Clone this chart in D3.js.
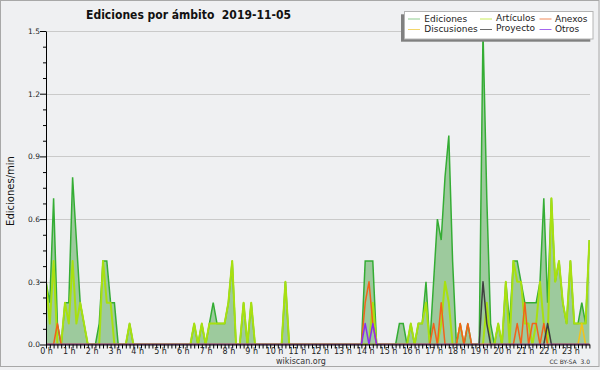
<!DOCTYPE html>
<html>
<head>
<meta charset="utf-8">
<script src="https://cdn.jsdelivr.net/npm/d3@7"></script>
<style>
  body { margin: 0; background: #eff0f2; }
  text { font-family: "DejaVu Sans", sans-serif; }
</style>
</head>
<body>
<svg id="chart" width="600" height="370"></svg>
<script>
// edits per minute, one value per 10-minute slot (6 per hour, 0 h .. 23 h 50)
var ediciones = [
  0.3, 0.2, 0.7, 0.1, 0, 0.2,
  0.2, 0.8, 0.5, 0.2, 0.1, 0,
  0, 0, 0.1, 0.4, 0.4, 0.2,
  0.2, 0, 0, 0, 0.1, 0,
  0, 0, 0, 0, 0, 0,
  0, 0, 0, 0, 0, 0,
  0, 0, 0, 0.1, 0, 0.1,
  0, 0.1, 0.2, 0.1, 0.1, 0.1,
  0.2, 0.4, 0, 0, 0.2, 0,
  0.2, 0, 0, 0, 0, 0,
  0, 0, 0, 0.3, 0, 0,
  0, 0, 0, 0, 0, 0,
  0, 0, 0, 0, 0, 0,
  0, 0, 0, 0, 0, 0,
  0.4, 0.4, 0.4, 0, 0, 0,
  0, 0, 0, 0.1, 0.1, 0,
  0.1, 0, 0.1, 0.1, 0.3, 0,
  0.3, 0.6, 0.5, 0.8, 1.0, 0.4,
  0, 0.1, 0, 0.1, 0, 0,
  0, 1.5, 0.7, 0.1, 0, 0.1,
  0, 0.3, 0.1, 0.4, 0.4, 0.3,
  0.2, 0.2, 0.2, 0.2, 0.3, 0.7,
  0.2, 0.7, 0.3, 0.4, 0.2, 0.1,
  0.4, 0.1, 0.1, 0.2, 0.1, 0.5
];
var articulos = [
  0.3, 0.1, 0.4, 0, 0, 0.2,
  0.1, 0.4, 0.1, 0.2, 0.1, 0,
  0, 0, 0, 0.4, 0.2, 0.2,
  0, 0, 0, 0, 0.1, 0,
  0, 0, 0, 0, 0, 0,
  0, 0, 0, 0, 0, 0,
  0, 0, 0, 0.1, 0, 0.1,
  0, 0.1, 0.1, 0.1, 0.1, 0.1,
  0.2, 0.4, 0, 0, 0.2, 0,
  0.2, 0, 0, 0, 0, 0,
  0, 0, 0, 0.3, 0, 0,
  0, 0, 0, 0, 0, 0,
  0, 0, 0, 0, 0, 0,
  0, 0, 0, 0, 0, 0,
  0, 0, 0.2, 0, 0, 0,
  0, 0, 0, 0, 0, 0,
  0.1, 0, 0.1, 0.1, 0.2, 0,
  0, 0, 0.1, 0.3, 0.2, 0,
  0, 0, 0, 0, 0, 0,
  0, 0, 0.2, 0, 0, 0.1,
  0, 0.3, 0, 0.4, 0.3, 0.3,
  0.1, 0.1, 0, 0.1, 0.3, 0.1,
  0, 0.7, 0.3, 0.4, 0.2, 0.1,
  0.4, 0.1, 0.1, 0.1, 0.1, 0.5
];
var anexos = [
  0, 0, 0, 0.1, 0, 0,  0, 0, 0, 0, 0, 0,  0, 0, 0, 0, 0, 0,  0, 0, 0, 0, 0, 0,
  0, 0, 0, 0, 0, 0,  0, 0, 0, 0, 0, 0,  0, 0, 0, 0, 0, 0,  0, 0, 0, 0, 0, 0,
  0, 0, 0, 0, 0, 0,  0, 0, 0, 0, 0, 0,  0, 0, 0, 0, 0, 0,  0, 0, 0, 0, 0, 0,
  0, 0, 0, 0, 0, 0,  0, 0, 0, 0, 0, 0,  0.2, 0.3, 0.1, 0, 0, 0,  0, 0, 0, 0, 0, 0,
  0, 0, 0, 0, 0, 0,  0.1, 0, 0.2, 0, 0, 0,  0, 0.1, 0, 0.1, 0, 0,  0, 0, 0, 0, 0, 0,
  0, 0, 0, 0, 0.1, 0,  0.2, 0, 0.1, 0.1, 0, 0.1,  0, 0, 0, 0, 0, 0,  0, 0, 0, 0, 0, 0
];
var discusiones = [
  0, 0, 0, 0, 0, 0,  0, 0, 0, 0, 0, 0,  0, 0, 0, 0, 0, 0,  0, 0, 0, 0, 0, 0,
  0, 0, 0, 0, 0, 0,  0, 0, 0, 0, 0, 0,  0, 0, 0, 0, 0, 0,  0, 0, 0, 0, 0, 0,
  0, 0, 0, 0, 0, 0,  0, 0, 0, 0, 0, 0,  0, 0, 0, 0, 0, 0,  0, 0, 0, 0, 0, 0,
  0, 0, 0, 0, 0, 0,  0, 0, 0, 0, 0, 0,  0, 0, 0, 0, 0, 0,  0, 0, 0, 0, 0, 0,
  0, 0, 0, 0, 0, 0,  0, 0, 0, 0, 0, 0,  0, 0.1, 0, 0, 0, 0,  0, 0, 0, 0, 0, 0,
  0, 0, 0, 0, 0, 0,  0, 0, 0, 0, 0, 0,  0, 0, 0, 0, 0, 0,  0, 0, 0, 0.1, 0, 0
];
var proyecto = [
  0, 0, 0, 0, 0, 0,  0, 0, 0, 0, 0, 0,  0, 0, 0, 0, 0, 0,  0, 0, 0, 0, 0, 0,
  0, 0, 0, 0, 0, 0,  0, 0, 0, 0, 0, 0,  0, 0, 0, 0, 0, 0,  0, 0, 0, 0, 0, 0,
  0, 0, 0, 0, 0, 0,  0, 0, 0, 0, 0, 0,  0, 0, 0, 0, 0, 0,  0, 0, 0, 0, 0, 0,
  0, 0, 0, 0, 0, 0,  0, 0, 0, 0, 0, 0,  0, 0, 0, 0, 0, 0,  0, 0, 0, 0, 0, 0,
  0, 0, 0, 0, 0, 0,  0, 0, 0, 0, 0, 0,  0, 0, 0, 0, 0, 0,  0, 0.3, 0.1, 0, 0, 0,
  0, 0, 0, 0, 0, 0,  0, 0, 0, 0, 0, 0,  0.1, 0, 0, 0, 0, 0,  0, 0, 0, 0, 0, 0
];
var otros = [
  0, 0, 0, 0, 0, 0,  0, 0, 0, 0, 0, 0,  0, 0, 0, 0, 0, 0,  0, 0, 0, 0, 0, 0,
  0, 0, 0, 0, 0, 0,  0, 0, 0, 0, 0, 0,  0, 0, 0, 0, 0, 0,  0, 0, 0, 0, 0, 0,
  0, 0, 0, 0, 0, 0,  0, 0, 0, 0, 0, 0,  0, 0, 0, 0, 0, 0,  0, 0, 0, 0, 0, 0,
  0, 0, 0, 0, 0, 0,  0, 0, 0, 0, 0, 0,  0.1, 0, 0.1, 0, 0, 0,  0, 0, 0, 0, 0, 0,
  0, 0, 0, 0, 0, 0,  0, 0, 0, 0, 0, 0,  0, 0, 0, 0, 0, 0,  0, 0, 0, 0, 0, 0,
  0, 0, 0, 0, 0, 0,  0, 0, 0, 0, 0, 0,  0, 0, 0, 0, 0, 0,  0, 0, 0, 0, 0, 0
];

var hourLabels = d3.range(24).map(function (h) { return h + " h"; });
var legendNames = ["Ediciones", "Discusiones", "Artículos", "Proyecto", "Anexos", "Otros"];
var legendColors = ["#8fcc8f", "#f3d66a", "#c8ec5a", "#6a6a6a", "#f08a5a", "#a466ee"];

var svg = d3.select("#chart"),
  margin = { top: 31, left: 46 },
  width = 544,
  height = 313.5;

svg.append("rect")
  .attr("x", 0.5).attr("y", 0.5)
  .attr("width", 598.5).attr("height", 366)
  .attr("fill", "#eff0f2")
  .attr("stroke", "#a8a8a8");

var x = d3.scaleLinear().domain([0, 143]).range([0, 543.4]),
  y = d3.scaleLinear().domain([0, 1.5]).range([height, 0]);

var g = svg.append("g")
  .attr("transform", "translate(" + margin.left + "," + margin.top + ")");

// grid
g.selectAll(".grid")
  .data([0.3, 0.6, 0.9, 1.2, 1.5])
  .enter().append("line")
  .attr("x1", 0).attr("x2", width)
  .attr("y1", function (d) { return Math.round(y(d)) + 0.5; })
  .attr("y2", function (d) { return Math.round(y(d)) + 0.5; })
  .attr("stroke", "#cacaca");

g.append("clipPath").attr("id", "clip")
  .append("rect").attr("x", 0).attr("y", -2).attr("width", width).attr("height", height + 2);

var plot = g.append("g").attr("clip-path", "url(#clip)");

var area = d3.area()
  .x(function (d, i) { return x(i); })
  .y0(y(0))
  .y1(function (d) { return y(d); });

var line = d3.line()
  .x(function (d, i) { return x(i); })
  .y(function (d) { return y(d); });

plot.append("path")
  .datum(ediciones)
  .attr("d", area)
  .attr("fill", "#9dca9d");

plot.append("path")
  .datum(ediciones)
  .attr("d", line)
  .attr("fill", "none")
  .attr("stroke", "#34ad34")
  .attr("stroke-width", 1.5);

var series = [
  { values: articulos, color: "#a8e010", w: 2 },
  { values: discusiones, color: "#f2c21c", w: 1.5 },
  { values: anexos, color: "#f2621a", w: 1.5 },
  { values: proyecto, color: "#3e3e3e", w: 1.5 },
  { values: otros, color: "#8a2cf0", w: 1.5 }
];

series.forEach(function (s) {
  plot.append("path")
    .datum(s.values)
    .attr("d", line)
    .attr("fill", "none")
    .attr("stroke", s.color)
    .attr("stroke-width", s.w)
    .attr("stroke-linejoin", "round");
});

// x axis
var xAxis = g.append("g")
  .attr("transform", "translate(0," + height + ")")
  .call(d3.axisBottom(x)
    .tickValues(d3.range(0, 144))
    .tickSize(4)
    .tickSizeOuter(0)
    .tickPadding(0)
    .tickFormat(function (i) { return i % 6 === 0 ? hourLabels[i / 6] : ""; }));
xAxis.select(".domain").attr("d", "M0,0.5H" + width).attr("stroke", "#000");
xAxis.selectAll("text").attr("font-size", 8).attr("fill", "#222")
  .attr("font-family", "DejaVu Sans");

// y axis
var yTicks = d3.range(21).map(function (i) { return i * 0.075; });
var yAxis = g.append("g")
  .call(d3.axisLeft(y)
    .tickValues(yTicks)
    .tickSize(6)
    .tickSizeOuter(0)
    .tickPadding(0)
    .tickFormat(function (d, i) { return i % 4 === 0 ? d3.format(".1f")(d) : ""; }));
yAxis.select(".domain").attr("stroke", "#000");
yAxis.selectAll(".tick line")
  .attr("x2", function (d, i) { return i % 4 === 0 ? -6 : -3; });
yAxis.selectAll("text").attr("font-size", 7.5).attr("fill", "#222")
  .attr("font-family", "DejaVu Sans");

svg.append("text")
  .attr("transform", "translate(14,191) rotate(-90)")
  .attr("text-anchor", "middle")
  .attr("font-size", 10)
  .attr("fill", "#111")
  .text("Ediciones/min");

svg.append("text")
  .attr("x", 188.5).attr("y", 18.5)
  .attr("text-anchor", "middle")
  .attr("font-family", "'DejaVu Sans Condensed', 'DejaVu Sans', sans-serif")
  .attr("font-stretch", "condensed")
  .attr("font-size", 12)
  .attr("font-weight", "bold")
  .attr("fill", "#111")
  .style("white-space", "pre")
  .text("Ediciones por ámbito  2019-11-05");

svg.append("text")
  .attr("x", 301).attr("y", 363.5)
  .attr("text-anchor", "middle")
  .attr("font-size", 8)
  .attr("fill", "#333")
  .text("wikiscan.org");

svg.append("text")
  .attr("x", 590).attr("y", 364.3)
  .attr("text-anchor", "end")
  .attr("font-size", 6)
  .attr("fill", "#333")
  .style("white-space", "pre")
  .text("CC BY-SA  3.0");

// legend
var leg = svg.append("g");
leg.append("rect")
  .attr("x", 401).attr("y", 14.3).attr("width", 189.3).attr("height", 27.4)
  .attr("fill", "#808080");
leg.append("rect")
  .attr("x", 404.5).attr("y", 11.5).attr("width", 188.5).attr("height", 27.5)
  .attr("fill", "#fff").attr("stroke", "#b4b4b4");

var colLine = [408, 480, 539.5], colText = [424.3, 496, 555];
var rowLine = [19, 29.5], rowText = [[21.7, 32.3], [20.7, 31], [21.7, 32.3]];

legendNames.forEach(function (name, k) {
  var c = Math.floor(k / 2), r = k % 2;
  leg.append("line")
    .attr("x1", colLine[c]).attr("x2", colLine[c] + 12)
    .attr("y1", rowLine[r]).attr("y2", rowLine[r])
    .attr("stroke", legendColors[k]);
  leg.append("text")
    .attr("x", colText[c]).attr("y", rowText[c][r])
    .attr("font-size", 9)
    .attr("fill", "#222")
    .text(name);
});
</script>
</body>
</html>
